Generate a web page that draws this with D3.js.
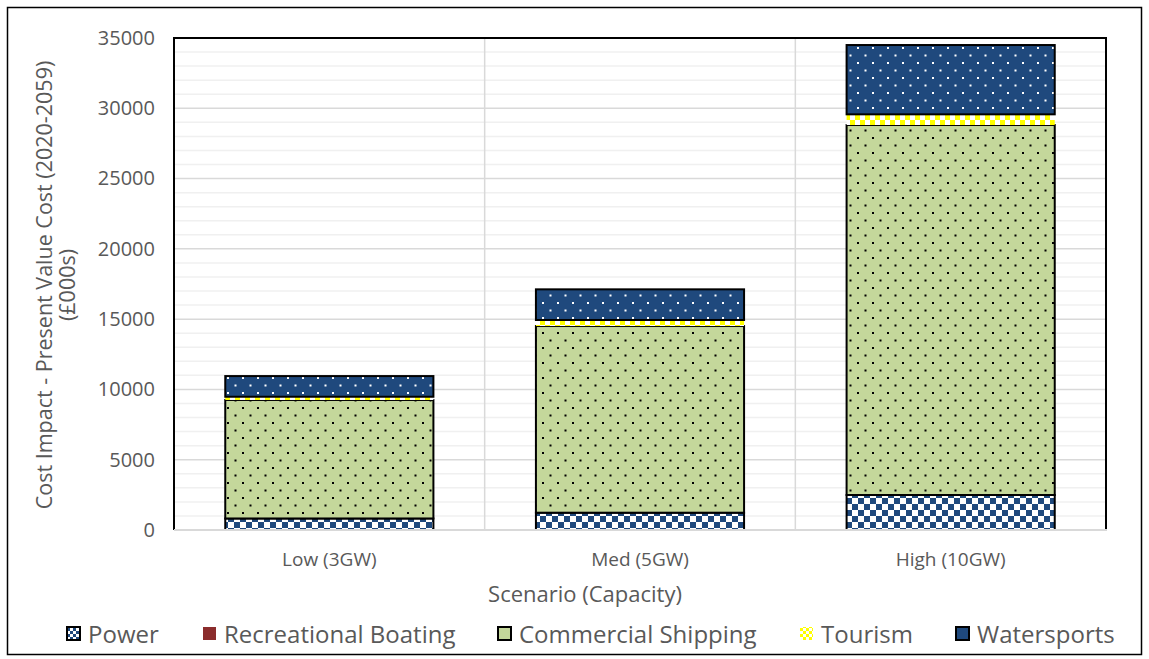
<!DOCTYPE html>
<html>
<head>
<meta charset="utf-8">
<script src="https://cdn.jsdelivr.net/npm/d3@7"></script>
<style>
  html, body { margin: 0; padding: 0; background: #fff; }
  svg { display: block; font-family: "Open Sans", Lato, sans-serif; }
</style>
</head>
<body>
<svg id="chart" width="1149" height="659"></svg>
<script>
// Scenario categories and cost components (£000s, present value 2020-2059)
const scenarios = ["Low (3GW)", "Med (5GW)", "High (10GW)"];
const seriesNames = ["Power", "Recreational Boating", "Commercial Shipping", "Tourism", "Watersports"];
const power = [820, 1230, 2490];
const recreationalBoating = [0, 0, 0];
const commercialShipping = [8430, 13280, 26320];
const tourism = [230, 430, 760];
const watersports = [1470, 2180, 4930];
const yTicks = [0, 5000, 10000, 15000, 20000, 25000, 30000, 35000];

const seriesValues = [power, recreationalBoating, commercialShipping, tourism, watersports];

const svg = d3.select("#chart");
const W = 1149, H = 659;
const plot = { left: 174, right: 1106, top: 38, bottom: 530 };

const NAVY = "#1F497D", GREEN = "#C4D79B", MAROON = "#8B2C2C", YELLOW = "#FFFF00";
const TEXT = "#595959";
const FONT = "'Open Sans', Lato, sans-serif";

// Fill patterns
const defs = svg.append("defs");
function checker(id, size, c1, c2) {
  const p = defs.append("pattern").attr("id", id).attr("patternUnits", "userSpaceOnUse")
    .attr("width", size * 2).attr("height", size * 2);
  p.append("rect").attr("width", size * 2).attr("height", size * 2).attr("fill", c2);
  p.append("rect").attr("width", size).attr("height", size).attr("fill", c1);
  p.append("rect").attr("x", size).attr("y", size).attr("width", size).attr("height", size).attr("fill", c1);
}
function dots(id, bg, fg, w, h, r) {
  const p = defs.append("pattern").attr("id", id).attr("patternUnits", "userSpaceOnUse")
    .attr("width", w).attr("height", h);
  p.append("rect").attr("width", w).attr("height", h).attr("fill", bg);
  p.append("rect").attr("x", 2).attr("y", 2).attr("width", r).attr("height", r).attr("fill", fg);
  p.append("rect").attr("x", 2 + w / 2).attr("y", 2 + h / 2).attr("width", r).attr("height", r).attr("fill", fg);
}
checker("pat-power", 6, NAVY, "#ffffff");
checker("pat-tourism", 5, YELLOW, "#ffffff");
dots("pat-ship", GREEN, "#000000", 15, 15, 2);
dots("pat-water", NAVY, "#ffffff", 15, 15, 2);
// Legend swatches use a smaller version of the same fills
checker("pat-power-l", 3, NAVY, "#ffffff");
checker("pat-tourism-l", 3, YELLOW, "#ffffff");

const styles = {
  "Power": { fill: "url(#pat-power)", stroke: "#000", legendFill: "url(#pat-power-l)" },
  "Recreational Boating": { fill: MAROON, stroke: "none", legendFill: MAROON },
  "Commercial Shipping": { fill: "url(#pat-ship)", stroke: "#000", legendFill: GREEN },
  "Tourism": { fill: "url(#pat-tourism)", stroke: "none", legendFill: "url(#pat-tourism-l)" },
  "Watersports": { fill: "url(#pat-water)", stroke: "#000", legendFill: NAVY }
};

// Outer chart frame
svg.append("rect").attr("x", 7.5).attr("y", 7.5).attr("width", W - 15).attr("height", H - 12)
  .attr("fill", "#fff").attr("stroke", "#000").attr("stroke-width", 1.5);

// Scales
const x = d3.scaleBand().domain(scenarios).range([plot.left, plot.right]).padding(0);
const y = d3.scaleLinear().domain([0, 35000]).range([plot.bottom, plot.top]);

// Minor gridlines every 1000
const minor = d3.range(1000, 35000, 1000).filter(v => v % 5000 !== 0);
svg.append("g").selectAll("line").data(minor).join("line")
  .attr("x1", plot.left).attr("x2", plot.right)
  .attr("y1", d => y(d)).attr("y2", d => y(d))
  .attr("stroke", "#f0f0f0").attr("stroke-width", 1.5);
// Major gridlines
svg.append("g").selectAll("line").data(yTicks.slice(1)).join("line")
  .attr("x1", plot.left).attr("x2", plot.right)
  .attr("y1", d => y(d)).attr("y2", d => y(d))
  .attr("stroke", "#d9d9d9").attr("stroke-width", 1.5);
// Vertical category separators
svg.append("g").selectAll("line").data(scenarios.slice(1)).join("line")
  .attr("x1", d => x(d)).attr("x2", d => x(d))
  .attr("y1", plot.top).attr("y2", plot.bottom)
  .attr("stroke", "#d9d9d9").attr("stroke-width", 1.5);

// Stacked data
const rows = scenarios.map((s, i) => {
  const r = { scenario: s };
  seriesNames.forEach((n, k) => r[n] = seriesValues[k][i]);
  return r;
});
const stacked = d3.stack().keys(seriesNames)(rows);
const barW = x.bandwidth() * 0.67;

const layers = svg.append("g").selectAll("g").data(stacked).join("g")
  .attr("fill", d => styles[d.key].fill)
  .attr("stroke", d => styles[d.key].stroke)
  .attr("stroke-width", 2);
layers.selectAll("rect").data(d => d.filter(v => v[1] - v[0] > 0)).join("rect")
  .attr("x", d => x(d.data.scenario) + (x.bandwidth() - barW) / 2)
  .attr("width", barW)
  .attr("y", d => y(d[1]))
  .attr("height", d => y(d[0]) - y(d[1]));

// Plot area border (black on left, top, right) and grey category axis
svg.append("path")
  .attr("d", `M${plot.left},${plot.bottom}V${plot.top}H${plot.right}V${plot.bottom}`)
  .attr("fill", "none").attr("stroke", "#000").attr("stroke-width", 2);
svg.append("line").attr("x1", plot.left).attr("x2", plot.right + 1)
  .attr("y1", plot.bottom).attr("y2", plot.bottom)
  .attr("stroke", "#d9d9d9").attr("stroke-width", 2);

// Y axis labels
const yAxis = d3.axisLeft(y).tickValues(yTicks).tickSize(0).tickPadding(19).tickFormat(d3.format("d"));
const gy = svg.append("g").attr("transform", `translate(${plot.left},0)`).call(yAxis);
gy.select(".domain").remove();
gy.selectAll("text").attr("fill", TEXT).attr("font-size", 20).attr("font-family", FONT);

// X axis labels
const xAxis = d3.axisBottom(x).tickSize(0).tickPadding(23);
const gx = svg.append("g").attr("transform", `translate(0,${plot.bottom})`).call(xAxis);
gx.select(".domain").remove();
gx.selectAll("text").attr("fill", TEXT).attr("font-size", 19).attr("font-family", FONT);

// Axis titles
svg.append("text").attr("x", 585).attr("y", 594).attr("dy", "0.36em")
  .attr("text-anchor", "middle").attr("fill", TEXT).attr("font-size", 22)
  .text("Scenario (Capacity)");
const yt = svg.append("text").attr("transform", "translate(0,285) rotate(-90)")
  .attr("text-anchor", "middle").attr("fill", TEXT).attr("font-size", 21.5);
yt.append("tspan").attr("x", 0).attr("y", 52).text("Cost Impact - Present Value Cost (2020-2059)");
yt.append("tspan").attr("x", 0).attr("y", 75).text("(£000s)");

// Legend
const legendX = [67, 203, 498, 800, 956];
const leg = svg.append("g").selectAll("g").data(seriesNames).join("g")
  .attr("transform", (d, i) => `translate(${legendX[i]},634)`);
leg.append("rect").attr("x", 0).attr("y", -7).attr("width", 13).attr("height", 13)
  .attr("fill", d => styles[d].legendFill)
  .attr("stroke", d => styles[d].stroke)
  .attr("stroke-width", 2);
leg.append("text").attr("x", 21).attr("y", 0).attr("dy", "0.36em")
  .attr("fill", TEXT).attr("font-size", 24).text(d => d);
</script>
</body>
</html>
